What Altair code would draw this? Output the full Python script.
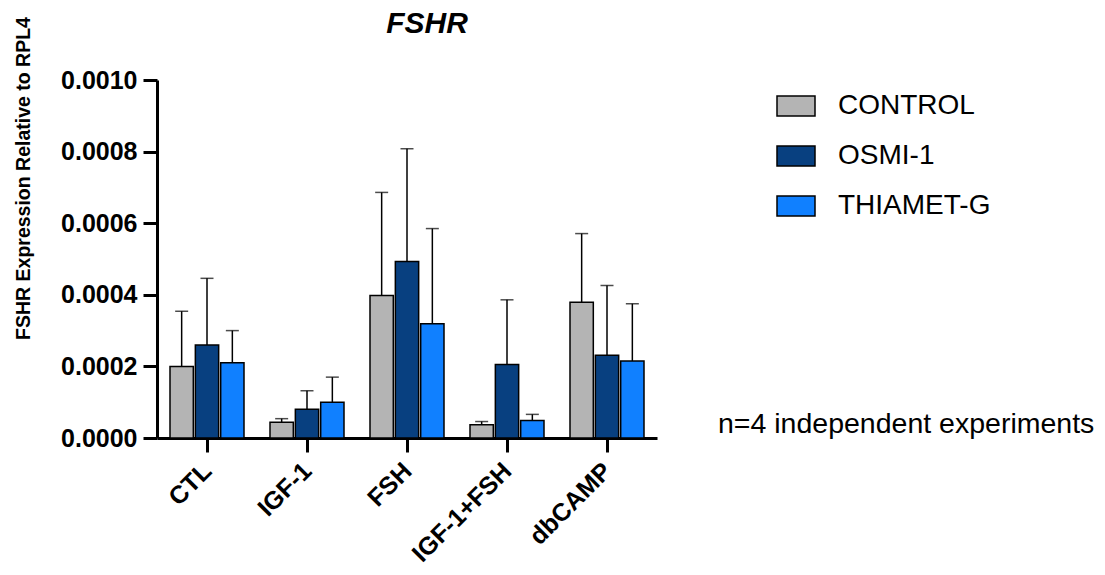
import altair as alt
import pandas as pd

categories = ["CTL", "IGF-1", "FSH", "IGF-1+FSH", "dbCAMP"]
groups = ["CONTROL", "OSMI-1", "THIAMET-G"]
colors = ["#b4b4b4", "#084080", "#1080ff"]

control_mean = [0.000200, 0.000044, 0.000398, 0.000037, 0.000379]
control_sd = [0.000154, 0.000010, 0.000288, 0.000009, 0.000192]
osmi_mean = [0.000260, 0.000080, 0.000493, 0.000205, 0.000231]
osmi_sd = [0.000186, 0.000052, 0.000315, 0.000181, 0.000195]
thia_mean = [0.000210, 0.000100, 0.000319, 0.000049, 0.000215]
thia_sd = [0.000090, 0.000070, 0.000266, 0.000017, 0.000160]

title_text = "FSHR"
note = "n=4 independent experiments"
FONT = "Liberation Sans"

rows = []
for g, means, sds in zip(groups, [control_mean, osmi_mean, thia_mean], [control_sd, osmi_sd, thia_sd]):
    for c, m, s in zip(categories, means, sds):
        rows.append({"cat": c, "group": g, "mean": m, "upper": m + s})
df = pd.DataFrame(rows)

x_enc = alt.X("cat:N", sort=categories,
              scale=alt.Scale(paddingInner=0.26, paddingOuter=0.13),
              axis=alt.Axis(title=None, labelAngle=-45, labelFont=FONT, labelFontSize=25,
                            labelFontWeight="bold", labelColor="black", domainColor="black",
                            domainWidth=3, tickColor="black", tickWidth=3, tickSize=14,
                            labelPadding=6, labelOffset=-8, labelBound=False))
xo_enc = alt.XOffset("group:N", sort=groups, scale=alt.Scale(paddingInner=0.08, paddingOuter=0))

y_scale = alt.Scale(domain=[0, 0.001], nice=False)
y_axis = alt.Axis(title="FSHR Expression Relative to RPL4", values=[0, 0.0002, 0.0004, 0.0006, 0.0008, 0.001],
                  format=".4f", grid=False, labelFont=FONT, labelFontSize=25, labelFontWeight="bold",
                  labelColor="black", domainColor="black", domainWidth=3, tickColor="black",
                  tickWidth=3, tickSize=14, labelPadding=6, titleFont=FONT, titleFontSize=19.5,
                  titleFontWeight="bold", titleColor="black", titleX=-134, titleY=98,
                  titleAlign="center", titleBaseline="middle", titleAngle=-90)

base = alt.Chart(df).encode(x=x_enc, xOffset=xo_enc)

bars = base.mark_bar(stroke="black", strokeWidth=1.5).encode(
    y=alt.Y("mean:Q", scale=y_scale, axis=y_axis),
    fill=alt.Fill("group:N", sort=groups, scale=alt.Scale(domain=groups, range=colors),
                  legend=alt.Legend(title=None, orient="none", legendX=619, legendY=6,
                                    symbolType="M-1,-0.52H1V0.52H-1Z", symbolSize=1444,
                                    symbolStrokeColor="black", symbolStrokeWidth=1.5,
                                    labelFont=FONT, labelFontSize=28, labelColor="black",
                                    labelOffset=22, rowPadding=16, padding=0)),
)

rules = base.mark_rule(color="black", strokeWidth=1.5).encode(
    y=alt.Y("mean:Q", scale=y_scale), y2="upper:Q")

caps = base.mark_tick(color="black", thickness=1.5, size=13, orient="horizontal").encode(
    y=alt.Y("upper:Q", scale=y_scale))

text = alt.Chart(pd.DataFrame({"t": [note]})).mark_text(
    align="left", baseline="alphabetic", font=FONT, fontSize=28.5, color="black"
).encode(x=alt.value(561), y=alt.value(353), text="t:N")

title = alt.Chart(pd.DataFrame({"t": [title_text]})).mark_text(
    align="center", baseline="alphabetic", font=FONT, fontSize=30, fontWeight="bold",
    fontStyle="italic", color="black"
).encode(x=alt.value(270), y=alt.value(-47), text="t:N")

chart = alt.layer(rules, caps, bars, text, title).properties(
    width=500, height=358,
    background="white",
    autosize=alt.AutoSizeParams(type="none"),
    padding={"left": 149, "top": 72, "right": 440, "bottom": 135},
).configure_view(stroke=None)

chart.save("out.html", embed_options={"renderer": "svg", "actions": False})
